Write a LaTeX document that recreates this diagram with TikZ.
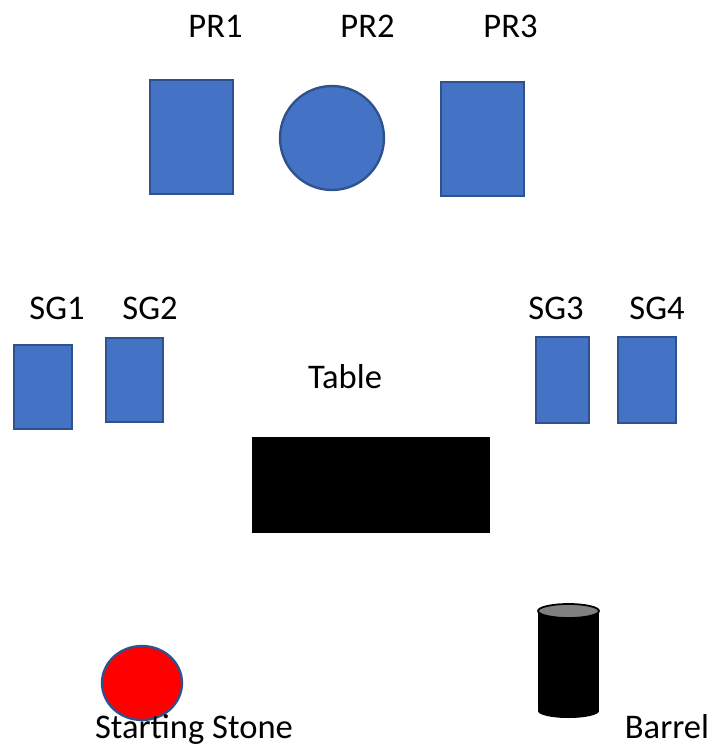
\documentclass[tikz,border=0pt]{standalone}
\usepackage{fontspec}
\setmainfont{Carlito}
\definecolor{blue}{RGB}{68, 114, 196}
\definecolor{darkblue}{RGB}{47, 82, 143}
\definecolor{stonered}{RGB}{255, 0, 0}

\begin{document}
\begin{tikzpicture}[x=0.03cm, y=-0.03cm,
    prop/.style={fill=blue, draw=darkblue, line width=2pt},
    tag/.style={anchor=base, inner sep=0pt, font=\fontsize{29.5}{34}\selectfont}]
      \useasboundingbox (0,0) rectangle (712,748);

      % Prize shapes
      \draw[prop] (150,80) rectangle (233,194);
      \draw[prop] (332,138) circle (52);
      \draw[prop] (441,82) rectangle (524,196);

      \node[tag] (pr1) at (215.5,37) {PR1};
      \node[tag] (pr2) at (367.5,37) {PR2};
      \node[tag] (pr3) at (510.5,37) {PR3};

      % Side goals
      \draw[prop] (14,345) rectangle (72,429);
      \draw[prop] (106,338) rectangle (163,422);
      \draw[prop] (536,337) rectangle (589,423);
      \draw[prop] (618,337) rectangle (676,423);

      \node[tag] (sg1) at (57,319) {SG1};
      \node[tag] (sg2) at (150,319) {SG2};
      \node[tag] (sg3) at (556,319) {SG3};
      \node[tag] (sg4) at (657,319) {SG4};

      % Table
      \node[tag] (table) at (345,388) {Table};
      \fill[black] (252,437) rectangle (490,533);

      % Starting stone
      \draw[fill=stonered, draw=darkblue, line width=2pt] (142,683) ellipse (40 and 37);
      \node[tag] (stone) at (194,738) {Starting Stone};

      % Barrel
      \fill[black] (538,611) rectangle (599,711);
      \fill[black] (568.5,711) ellipse (30.5 and 7);
      \draw[fill=gray, line width=1.5pt] (568.5,611) ellipse (30.5 and 7);
      \node[tag] (barrel) at (667,738) {Barrel};
    \end{tikzpicture}
\end{document}
